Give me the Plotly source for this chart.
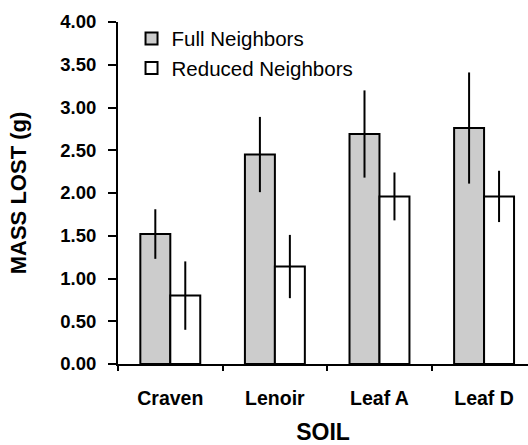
import plotly.graph_objects as go

# Soil types and mean mass lost (g) with error bar half-widths
soils = ["Craven", "Lenoir", "Leaf A", "Leaf D"]
full_mean = [1.52, 2.45, 2.69, 2.76]
full_err = [0.29, 0.44, 0.51, 0.65]
reduced_mean = [0.80, 1.14, 1.96, 1.96]
reduced_err = [0.40, 0.37, 0.28, 0.30]

y_ticks = [0, 0.5, 1, 1.5, 2, 2.5, 3, 3.5, 4]
y_tick_text = [f"{v:.2f}" for v in y_ticks]

FONT = "Liberation Sans, Arial, sans-serif"
bar_line = dict(color="black", width=2)
err_style = dict(type="data", visible=True, color="black", thickness=2, width=0)

fig = go.Figure()
fig.add_trace(go.Bar(
    x=soils, y=full_mean, name="Full Neighbors",
    marker=dict(color="#cccccc", line=bar_line),
    error_y=dict(array=full_err, **err_style),
))
fig.add_trace(go.Bar(
    x=soils, y=reduced_mean, name="Reduced Neighbors",
    marker=dict(color="white", line=bar_line),
    error_y=dict(array=reduced_err, **err_style),
))

fig.update_layout(
    width=528, height=445,
    margin=dict(l=118, r=0, t=22, b=81),
    paper_bgcolor="white", plot_bgcolor="white",
    barmode="group", bargap=0.427, bargroupgap=0,
    font=dict(family=FONT, color="black"),
    showlegend=True,
    legend=dict(
        x=0.033, y=1.01, xanchor="left", yanchor="top",
        bgcolor="rgba(0,0,0,0)", borderwidth=0,
        font=dict(size=20.5, family=FONT, color="black"),
        itemwidth=30, tracegroupgap=0,
    ),
)

fig.update_xaxes(
    type="category", range=[-0.5, 3.42],
    showline=True, linecolor="black", linewidth=2,
    ticks="outside", tickson="boundaries", ticklen=5, tickwidth=2, tickcolor="black",
    tickfont=dict(size=19.5, family=FONT, color="black", weight="bold"),
    ticklabelstandoff=16,
    showgrid=False, zeroline=False,
    title=dict(text="<b>SOIL</b>", font=dict(size=23, family=FONT, color="black"), standoff=20),
)
fig.update_yaxes(
    range=[0, 4], tickvals=y_ticks, ticktext=y_tick_text,
    showline=True, linecolor="black", linewidth=2,
    ticks="outside", ticklen=8, tickwidth=2, tickcolor="black",
    tickfont=dict(size=18.5, family=FONT, color="black", weight="bold"),
    ticklabelstandoff=8,
    showgrid=False, zeroline=False,
    title=dict(text="<b>MASS LOST (g)</b>", font=dict(size=22, family=FONT, color="black"), standoff=28),
)

fig.write_html("out.html")
